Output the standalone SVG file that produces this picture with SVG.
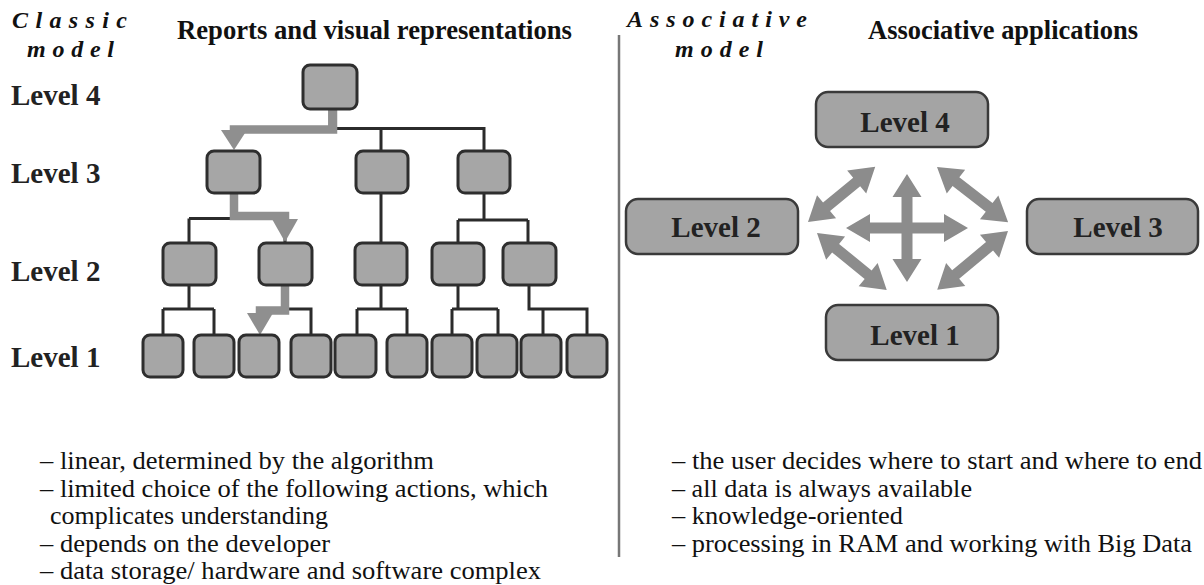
<svg xmlns="http://www.w3.org/2000/svg" width="1204" height="585" viewBox="0 0 1204 585">
  <style>
    .bg { fill: #ffffff; }
    .hd { font-family: "Liberation Serif", "Times New Roman", serif; font-weight: bold; font-size: 26.5px; fill: #111; }
    .mdl { font-family: "Liberation Serif", "Times New Roman", serif; font-weight: bold; font-style: italic; font-size: 24px; fill: #111; }
    .lvl { font-family: "Liberation Serif", "Times New Roman", serif; font-weight: bold; font-size: 29px; fill: #222; }
    .txt { font-family: "Liberation Serif", "Times New Roman", serif; font-size: 26px; fill: #111; }
    .box { fill: #a6a6a6; stroke: #2e2e2e; stroke-width: 3; }
    .big { fill: #a4a4a4; stroke: #3a3a3a; stroke-width: 2.5; }
    .wire { fill: none; stroke: #2b2b2b; stroke-width: 3; }
    .path { fill: none; stroke: #8f8f8f; stroke-width: 8.5; }
    .head { fill: #8f8f8f; }
    .arr { fill: #8c8c8c; }
  </style>
  <rect class="bg" x="0" y="0" width="1204" height="585"/>

  <!-- titles -->
  <g id="titles">
    <text class="mdl" x="12" y="28" textLength="115" lengthAdjust="spacing">Classic</text>
    <text class="mdl" x="27" y="57" textLength="87" lengthAdjust="spacing">model</text>
    <text class="hd" x="177" y="38.5" textLength="395" lengthAdjust="spacingAndGlyphs">Reports and visual representations</text>
    <text class="mdl" x="627" y="27" textLength="180" lengthAdjust="spacing">Associative</text>
    <text class="mdl" x="675" y="57" textLength="88" lengthAdjust="spacing">model</text>
    <text class="hd" x="868" y="39" textLength="270" lengthAdjust="spacingAndGlyphs">Associative applications</text>
  </g>

  <!-- level labels of the tree -->
  <g id="level-labels">
    <text class="lvl" x="11" y="105">Level 4</text>
    <text class="lvl" x="11" y="183">Level 3</text>
    <text class="lvl" x="11" y="281">Level 2</text>
    <text class="lvl" x="11" y="367">Level 1</text>
  </g>

  <!-- divider -->
  <line x1="619" y1="35" x2="619" y2="557" stroke="#777" stroke-width="2.5"/>

  <!-- tree connectors -->
  <g id="connectors">
    <path class="wire" d="M330,109 V128.5 H484 V151 M381,128.5 V151"/>
    <path class="wire" d="M189,218.5 H285 V243 M189,218.5 V243"/>
    <path class="wire" d="M381,193 V243"/>
    <path class="wire" d="M484,193 V220 M458,220 H528 M458,220 V243 M528,220 V243"/>
    <path class="wire" d="M189,285 V309 M163,309 H214 M163,309 V335 M214,309 V335"/>
    <path class="wire" d="M285,285 V309 H311 V335"/>
    <path class="wire" d="M381,285 V309 M357,309 H407 M357,309 V335 M407,309 V335"/>
    <path class="wire" d="M458,285 V309 M452,309 H498 M452,309 V335 M498,309 V335"/>
    <path class="wire" d="M529,285 V309 H587 V335 M543,309 V335"/>
    <!-- highlighted navigation route -->
    <path class="path" d="M333,108 V129.5 H234 V134"/>
    <polygon class="head" points="221,130 247,130 234,150"/>
    <path class="path" d="M234,193 V216 H285 V220"/>
    <polygon class="head" points="272,219 298,219 285,242"/>
    <path class="path" d="M285,285 V310.5 H260 V314"/>
    <polygon class="head" points="247,313 273,313 260,335"/>
  </g>

  <!-- tree nodes -->
  <g id="tree-l4">
    <rect class="box" x="303" y="65" width="54" height="44" rx="7"/>
  </g>
  <g id="tree-l3">
    <rect class="box" x="207" y="151" width="53" height="42" rx="7"/>
    <rect class="box" x="356" y="151" width="52" height="42" rx="7"/>
    <rect class="box" x="458" y="151" width="52" height="42" rx="7"/>
  </g>
  <g id="tree-l2">
    <rect class="box" x="163" y="243" width="53" height="42" rx="7"/>
    <rect class="box" x="259" y="243" width="53" height="42" rx="7"/>
    <rect class="box" x="355" y="243" width="52" height="42" rx="7"/>
    <rect class="box" x="432" y="243" width="52" height="42" rx="7"/>
    <rect class="box" x="503" y="243" width="53" height="42" rx="7"/>
  </g>
  <g id="tree-l1">
    <rect class="box" x="143" y="335" width="40" height="42" rx="7"/>
    <rect class="box" x="194" y="335" width="40" height="42" rx="7"/>
    <rect class="box" x="239" y="335" width="40" height="42" rx="7"/>
    <rect class="box" x="291" y="335" width="40" height="42" rx="7"/>
    <rect class="box" x="335" y="335" width="41" height="42" rx="7"/>
    <rect class="box" x="387" y="335" width="40" height="42" rx="7"/>
    <rect class="box" x="432" y="335" width="40" height="42" rx="7"/>
    <rect class="box" x="477" y="335" width="40" height="42" rx="7"/>
    <rect class="box" x="521" y="335" width="40" height="42" rx="7"/>
    <rect class="box" x="567" y="335" width="40" height="42" rx="7"/>
  </g>

  <!-- associative nodes -->
  <g id="assoc-level4">
    <rect class="big" x="816" y="92" width="172" height="55" rx="12"/>
    <text class="lvl" x="905" y="132" text-anchor="middle">Level 4</text>
  </g>
  <g id="assoc-level2">
    <rect class="big" x="626" y="199" width="172" height="55" rx="12"/>
    <text class="lvl" x="716" y="237" text-anchor="middle">Level 2</text>
  </g>
  <g id="assoc-level3">
    <rect class="big" x="1027" y="199" width="171" height="55" rx="12"/>
    <text class="lvl" x="1118" y="237" text-anchor="middle">Level 3</text>
  </g>
  <g id="assoc-level1">
    <rect class="big" x="826" y="305" width="172" height="55" rx="12"/>
    <text class="lvl" x="915" y="345" text-anchor="middle">Level 1</text>
  </g>

  <!-- associative double arrows -->
  <g id="assoc-arrows">
    <polygon class="arr" transform="translate(907,174) rotate(90)" points="0,0 23,-14.5 23,-5.5 85,-5.5 85,-14.5 108,0 85,14.5 85,5.5 23,5.5 23,14.5"/>
    <polygon class="arr" transform="translate(846,228)" points="0,0 24,-14 24,-5.5 98,-5.5 98,-14 122,0 98,14 98,5.5 24,5.5 24,14"/>
    <polygon class="arr" transform="translate(808,222) rotate(-39.4)" points="0,0 24,-15 24,-5.5 63,-5.5 63,-15 87,0 63,15 63,5.5 24,5.5 24,15"/>
    <polygon class="arr" transform="translate(817,233) rotate(39.2)" points="0,0 24,-15 24,-5.5 66,-5.5 66,-15 90,0 66,15 66,5.5 24,5.5 24,15"/>
    <polygon class="arr" transform="translate(937,167) rotate(37.8)" points="0,0 24,-15 24,-5.5 66,-5.5 66,-15 90,0 66,15 66,5.5 24,5.5 24,15"/>
    <polygon class="arr" transform="translate(1008,231) rotate(140.3)" points="0,0 24,-15 24,-5.5 68,-5.5 68,-15 92,0 68,15 68,5.5 24,5.5 24,15"/>
  </g>

  <!-- feature lists -->
  <g id="classic-list">
    <text class="txt" x="40" y="469" textLength="394" lengthAdjust="spacingAndGlyphs">– linear, determined by the algorithm</text>
    <text class="txt" x="40" y="496.5" textLength="508" lengthAdjust="spacingAndGlyphs">– limited choice of the following actions, which</text>
    <text class="txt" x="50" y="524">complicates understanding</text>
    <text class="txt" x="40" y="551.5" textLength="290" lengthAdjust="spacingAndGlyphs">– depends on the developer</text>
    <text class="txt" x="40" y="579" textLength="501" lengthAdjust="spacingAndGlyphs">– data storage/ hardware and software complex</text>
  </g>
  <g id="assoc-list">
    <text class="txt" x="672" y="469" textLength="530" lengthAdjust="spacingAndGlyphs">– the user decides where to start and where to end</text>
    <text class="txt" x="672" y="496.5" textLength="300" lengthAdjust="spacingAndGlyphs">– all data is always available</text>
    <text class="txt" x="672" y="524" textLength="231" lengthAdjust="spacingAndGlyphs">– knowledge-oriented</text>
    <text class="txt" x="672" y="551.5" textLength="520" lengthAdjust="spacingAndGlyphs">– processing in RAM and working with Big Data</text>
  </g>
</svg>
